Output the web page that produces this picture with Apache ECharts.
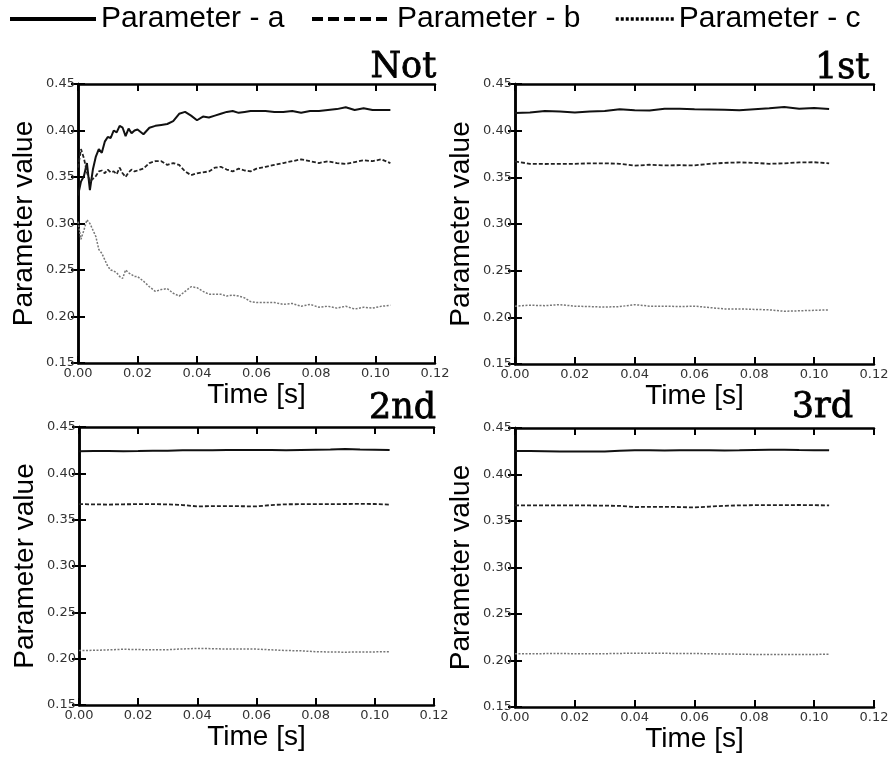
<!DOCTYPE html>
<html>
<head>
<meta charset="utf-8">
<script src="https://cdn.jsdelivr.net/npm/echarts@6/dist/echarts.min.js"></script>
<style>html,body{margin:0;padding:0;background:#fff}#c{width:894px;height:758px}</style>
</head>
<body>
<div id="c"></div>
<script>
// ---- data ----
var seriesNames = ['Parameter - a', 'Parameter - b', 'Parameter - c'];
var panelTitles = ['Not', '1st', '2nd', '3rd'];
var xTicks = [0, 0.02, 0.04, 0.06, 0.08, 0.10, 0.12];
var yTicks = [0.15, 0.20, 0.25, 0.30, 0.35, 0.40, 0.45];

// "Not" panel time points
var timeNot = [0,0.001,0.002,0.003,0.004,0.005,0.006,0.007,0.008,0.009,
  0.010,0.011,0.012,0.013,0.014,0.015,0.016,0.017,0.018,0.019,0.020,
  0.022,0.024,0.026,0.028,0.030,0.032,0.034,0.036,0.038,0.040,
  0.042,0.044,0.046,0.048,0.050,0.052,0.054,0.056,0.058,0.060,
  0.063,0.066,0.069,0.072,0.075,0.078,0.081,0.084,0.087,0.090,
  0.093,0.096,0.099,0.102,0.105];
var aNot = [0.330,0.345,0.351,0.365,0.336,0.358,0.372,0.380,0.376,0.388,
  0.393,0.392,0.400,0.398,0.405,0.403,0.394,0.402,0.397,0.400,0.401,
  0.396,0.403,0.405,0.406,0.407,0.410,0.418,0.420,0.416,0.411,
  0.415,0.414,0.416,0.418,0.420,0.421,0.419,0.420,0.421,0.421,
  0.421,0.420,0.420,0.421,0.419,0.421,0.421,0.422,0.423,0.425,
  0.422,0.424,0.422,0.422,0.422];
var bNot = [0.360,0.380,0.370,0.355,0.345,0.348,0.351,0.356,0.357,0.354,
  0.358,0.355,0.356,0.353,0.360,0.354,0.350,0.355,0.358,0.356,0.357,
  0.359,0.365,0.367,0.367,0.363,0.365,0.363,0.356,0.352,0.354,
  0.355,0.356,0.360,0.361,0.358,0.356,0.359,0.357,0.356,0.359,
  0.361,0.363,0.365,0.367,0.369,0.367,0.365,0.367,0.365,0.364,
  0.366,0.368,0.367,0.369,0.365];
var cNot = [0.302,0.283,0.293,0.304,0.300,0.293,0.286,0.272,0.268,0.261,
  0.254,0.250,0.249,0.247,0.243,0.241,0.250,0.247,0.245,0.243,0.243,
  0.238,0.232,0.227,0.229,0.230,0.225,0.222,0.227,0.232,0.231,
  0.227,0.224,0.224,0.224,0.222,0.223,0.222,0.220,0.216,0.215,
  0.215,0.215,0.213,0.214,0.211,0.213,0.210,0.211,0.209,0.211,
  0.208,0.210,0.209,0.211,0.212];

// time points for the converged panels
var timeConv = [0,0.005,0.010,0.015,0.020,0.025,0.030,0.035,0.040,0.045,0.050,
  0.055,0.060,0.065,0.070,0.075,0.080,0.085,0.090,0.095,0.100,0.105];
var a1st = [0.4190,0.4195,0.4210,0.4205,0.4195,0.4205,0.4210,0.4230,0.4220,0.4215,0.4235,
  0.4235,0.4230,0.4228,0.4225,0.4218,0.4230,0.4240,0.4254,0.4235,0.4243,0.4232];
var b1st = [0.3670,0.3645,0.3643,0.3645,0.3645,0.3650,0.3650,0.3645,0.3625,0.3635,0.3628,
  0.3630,0.3628,0.3645,0.3655,0.3660,0.3655,0.3645,0.3650,0.3660,0.3662,0.3650];
var c1st = [0.2120,0.2130,0.2125,0.2136,0.2120,0.2115,0.2110,0.2115,0.2136,0.2120,0.2120,
  0.2115,0.2120,0.2105,0.2090,0.2090,0.2085,0.2080,0.2065,0.2070,0.2075,0.2080];
var a2nd = [0.4237,0.4240,0.4240,0.4238,0.4240,0.4243,0.4245,0.4250,0.4250,0.4250,0.4252,
  0.4253,0.4253,0.4252,0.4250,0.4252,0.4254,0.4256,0.4262,0.4256,0.4255,0.4251];
var b2nd = [0.3668,0.3665,0.3663,0.3666,0.3667,0.3668,0.3665,0.3658,0.3643,0.3646,0.3647,
  0.3645,0.3643,0.3658,0.3666,0.3667,0.3668,0.3668,0.3669,0.3670,0.3669,0.3662];
var c2nd = [0.2088,0.2090,0.2095,0.2102,0.2098,0.2096,0.2097,0.2105,0.2110,0.2108,0.2103,
  0.2104,0.2103,0.2095,0.2088,0.2085,0.2075,0.2072,0.2070,0.2072,0.2073,0.2076];
var a3rd = [0.4253,0.4252,0.4250,0.4248,0.4246,0.4246,0.4248,0.4256,0.4260,0.4260,0.4258,
  0.4260,0.4262,0.4262,0.4258,0.4260,0.4263,0.4265,0.4267,0.4264,0.4262,0.4260];
var b3rd = [0.3668,0.3668,0.3667,0.3667,0.3668,0.3667,0.3665,0.3663,0.3650,0.3652,0.3653,
  0.3650,0.3646,0.3655,0.3663,0.3668,0.3670,0.3671,0.3671,0.3672,0.3670,0.3668];
var c3rd = [0.2072,0.2073,0.2074,0.2075,0.2073,0.2073,0.2073,0.2076,0.2079,0.2078,0.2077,
  0.2076,0.2076,0.2072,0.2070,0.2068,0.2065,0.2064,0.2065,0.2064,0.2065,0.2068];

var panels = [
  {t: timeNot, a: aNot, b: bNot, c: cNot},
  {t: timeConv, a: a1st, b: b1st, c: c1st},
  {t: timeConv, a: a2nd, b: b2nd, c: c2nd},
  {t: timeConv, a: a3rd, b: b3rd, c: c3rd}
];

// ---- layout / style ----
var grids = [
  {left: 78, top: 84, width: 357, height: 279},
  {left: 515, top: 84, width: 359, height: 280},
  {left: 79, top: 427, width: 355, height: 278},
  {left: 515, top: 428, width: 359, height: 279}
];
var xNameGap = [18, 18, 15, 15];
var titlePos = [
  {right: 457, top: 50},
  {right: 24, top: 51},
  {right: 457, top: 391},
  {right: 40, top: 390}
];
var lineStyles = [
  {color: '#111', width: 2, type: 'solid'},
  {color: '#222', width: 1.8, type: [4, 2]},
  {color: '#777', width: 1.5, type: [2, 1.5]}
];
var tickFmt = function (v) { return v.toFixed(2); };
var frame = {show: true, lineStyle: {color: '#000', width: 2.5}};
var tick = {show: true, inside: true, length: 7, lineStyle: {color: '#000', width: 2}};
var lblStyle = {color: '#333', fontFamily: 'DejaVu Sans', fontSize: 13};
var nameStyle = {color: '#000', fontFamily: 'Liberation Sans', fontSize: 28};

var xAxes = [], yAxes = [], series = [], titles = [];
grids.forEach(function (g, i) {
  xAxes.push({type: 'value', gridIndex: i, min: xTicks[0], max: xTicks[xTicks.length - 1], interval: 0.02,
    position: 'bottom', axisLine: frame, axisTick: tick, splitLine: {show: false},
    axisLabel: Object.assign({margin: 4, formatter: tickFmt}, lblStyle),
    name: 'Time [s]', nameLocation: 'middle', nameGap: xNameGap[i], nameTextStyle: nameStyle});
  xAxes.push({type: 'value', gridIndex: i, min: xTicks[0], max: xTicks[xTicks.length - 1], interval: 0.02,
    position: 'top', axisLine: frame, axisTick: tick, splitLine: {show: false}, axisLabel: {show: false}});
  yAxes.push({type: 'value', gridIndex: i, min: yTicks[0], max: yTicks[yTicks.length - 1], interval: 0.05,
    position: 'left', axisLine: frame, axisTick: tick, splitLine: {show: false},
    axisLabel: Object.assign({margin: 3, formatter: tickFmt}, lblStyle),
    name: 'Parameter value', nameLocation: 'middle', nameGap: 40, nameTextStyle: nameStyle});
  yAxes.push({type: 'value', gridIndex: i, min: yTicks[0], max: yTicks[yTicks.length - 1], interval: 0.05,
    position: 'right', axisLine: frame, axisTick: tick, splitLine: {show: false}, axisLabel: {show: false}});
  var p = panels[i];
  [p.a, p.b, p.c].forEach(function (vals, k) {
    series.push({type: 'line', name: seriesNames[k], xAxisIndex: 2 * i, yAxisIndex: 2 * i,
      symbol: 'none', showSymbol: false, silent: true, animation: false, lineStyle: lineStyles[k],
      itemStyle: {color: lineStyles[k].color},
      data: p.t.map(function (t, j) { return [t, vals[j]]; })});
  });
  titles.push({text: panelTitles[i], right: titlePos[i].right, top: titlePos[i].top, padding: 0,
    textStyle: {fontFamily: 'DejaVu Serif', fontSize: 35, fontWeight: 'normal', color: '#000',
      textBorderColor: '#000', textBorderWidth: 0.8}});
});

var legendCommon = {top: 4, itemHeight: 14, padding: 0, selectedMode: false,
  itemStyle: {opacity: 0, borderWidth: 0},
  textStyle: {fontFamily: 'Liberation Sans', fontSize: 30, color: '#000'}};
var legends = [
  Object.assign({}, legendCommon, {left: 8, itemWidth: 86, data: [seriesNames[0]],
    lineStyle: {width: 4, color: '#000', type: 'solid', opacity: 1}}),
  Object.assign({}, legendCommon, {left: 310, itemWidth: 80, data: [seriesNames[1]],
    lineStyle: {width: 4, color: '#000', type: [11, 5], opacity: 1}}),
  Object.assign({}, legendCommon, {left: 614, itemWidth: 58, data: [seriesNames[2]],
    lineStyle: {width: 3.5, color: '#000', type: [3, 2], opacity: 1}})
];

var chart = echarts.init(document.getElementById('c'), null, {renderer: 'canvas'});
chart.setOption({
  backgroundColor: '#fff',
  animation: false,
  title: titles,
  legend: legends,
  grid: grids,
  xAxis: xAxes,
  yAxis: yAxes,
  series: series
});
</script>
</body>
</html>
